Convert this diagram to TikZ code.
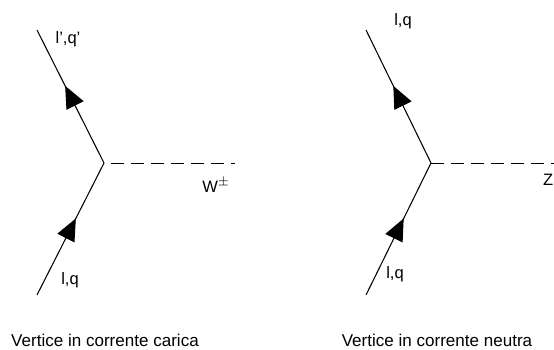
\documentclass[tikz,border=0pt]{standalone}
\usepackage{fontspec}
\setmainfont{Liberation Sans}
\usetikzlibrary{arrows.meta,decorations.markings}
\tikzset{
  fermion/.style={draw,line width=0.6pt,postaction={decorate},
    decoration={markings,mark=at position 0.58 with {\arrow{Triangle[length=4.4mm,width=3.8mm]}}}},
  boson/.style={draw,line width=0.5pt,dash pattern=on 2.6mm off 1.4mm},
  lbl/.style={font=\fontsize{9.4}{11}\selectfont,inner sep=0pt},
  caption/.style={font=\fontsize{9.7}{12}\selectfont,inner sep=0pt,anchor=base},
}

\begin{document}
\begin{tikzpicture}
  \useasboundingbox (0,0) rectangle (11.08,6.98);
  % charged current
  \coordinate (cc in) at (0.74,1.08);
  \coordinate (cc v) at (2.08,3.72);
  \coordinate (cc out) at (0.74,6.38);
  \coordinate (cc w) at (4.70,3.72);
  \draw[fermion] (cc in) -- (cc v);
  \draw[fermion] (cc v) -- (cc out);
  \draw[boson,dash phase=2.6mm] (cc v) -- (cc w);
  \node[lbl] (cc lout) at (1.36,6.19) {l',q'};
  \node[lbl] (cc lin) at (1.40,1.38) {l,q};
  \node[lbl] (cc lw) at (4.32,3.28) {W$^\pm$};
  \node[caption] (cc cap) at (2.10,0.06) {Vertice in corrente carica};
  % neutral current
  \coordinate (nc in) at (7.32,1.08);
  \coordinate (nc v) at (8.62,3.72);
  \coordinate (nc out) at (7.32,6.38);
  \coordinate (nc z) at (11.08,3.72);
  \draw[fermion] (nc in) -- (nc v);
  \draw[fermion] (nc v) -- (nc out);
  \draw[boson] (nc v) -- (nc z);
  \node[lbl] (nc lout) at (8.06,6.56) {l,q};
  \node[lbl] (nc lin) at (7.90,1.50) {l,q};
  \node[lbl,anchor=east] (nc lz) at (11.07,3.38) {Z};
  \node[caption] (nc cap) at (8.74,0.06) {Vertice in corrente neutra};
\end{tikzpicture}
\end{document}
